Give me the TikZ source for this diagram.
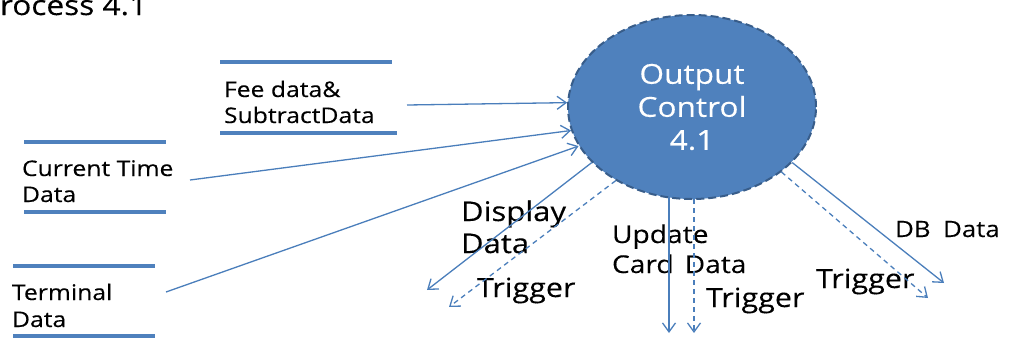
\documentclass[tikz,border=0pt]{standalone}
\usepackage{fontspec}
\setmainfont{Open Sans}[FakeStretch=1.15,FakeBold=0.25]
\usetikzlibrary{arrows.meta,shapes.geometric}
\definecolor{procfill}{HTML}{4F81BD}
\definecolor{procline}{HTML}{385D8A}
\definecolor{flow}{HTML}{4A7EBB}
\definecolor{store}{HTML}{4F81BD}
\newcommand\mylines[1]{\begin{tabular}[t]{@{}l@{}}#1\end{tabular}}
\newcommand\fs[2]{\fontsize{#1}{#2}\selectfont}
\begin{document}
\begin{tikzpicture}[x=1pt,y=-1pt,
  flowline/.style={draw=flow, line width=1.3pt, -{Straight Barb[length=9pt,width=13pt,line width=1.3pt]}},
  trig/.style={flowline, dash pattern=on 5pt off 4pt},
  storeline/.style={draw=store, line width=4.5pt},
  lbl/.style={anchor=base west, inner sep=0pt, outer sep=0pt, text=black},
  proc/.style={ellipse, fill=procfill, draw=procline, line width=2pt, dash pattern=on 8pt off 4pt,
    minimum width=248pt, minimum height=184pt, inner sep=0pt, text=white, align=center}
]
\useasboundingbox (0,0) rectangle (1014,340);

% process
\node[proc, font={\fs{27.5}{33}}] (oc) at (692,107) {Output\\Control\\4.1};

% title
\node[lbl, font={\fs{27.5}{33}}] (title) at (0,15) {rocess 4.1};

% data stores
\draw[storeline] (220,62) -- (392,62);
\draw[storeline] (220,133) -- (397,133);
\node[lbl, font={\fs{21.5}{26}}] (fee) at (224,97) {\mylines{Fee data\&\\SubtractData}};

\draw[storeline] (24,142) -- (166,142);
\draw[storeline] (24,212) -- (166,212);
\node[lbl, font={\fs{21.5}{26}}] (curr) at (22,176) {\mylines{Current Time\\Data}};

\draw[storeline] (13,266) -- (155,266);
\draw[storeline] (13,336) -- (155,336);
\node[lbl, font={\fs{21.5}{27}}] (term) at (12,300) {\mylines{Terminal\\Data}};

% flow labels
\node[lbl, font={\fs{27}{32}}] (disp) at (461,221) {\mylines{Display\\Data}};
\node[lbl, font={\fs{26.5}{32}}] (trigA) at (477,297) {Trigger};
\node[lbl, font={\fs{24.5}{30}}] (upd) at (612,243) {\mylines{Update\\Card\hspace{0.45em}Data}};
\node[lbl, font={\fs{26.5}{32}}] (trigB) at (706,307) {Trigger};
\node[lbl, font={\fs{26.5}{32}}] (trigC) at (816,288) {Trigger};
\node[lbl, font={\fs{22.5}{28}}] (db) at (895,237) {DB\hspace{0.55em}Data};

% inputs
\coordinate (feeout) at (407,105);
\coordinate (curout) at (190,180);
\coordinate (termout) at (166,292);
\draw[flowline] (feeout) -- (oc.178.6);
\draw[flowline] (curout) -- (oc.191.6);
\draw[flowline] (termout) -- (oc.199.9);

% outputs
\coordinate (dispend) at (427,290);
\coordinate (disptrig) at (449,307);
\coordinate (updend) at (669,333);
\coordinate (updtrig) at (694,333);
\coordinate (dbend) at (944,283);
\coordinate (dbtrig) at (928,298);
\draw[flowline] (oc.209.5) -- (dispend);
\draw[trig] (oc.224) -- (disptrig);
\draw[flowline, shorten <=-3pt] (oc.south -| updend) -- (updend);
\draw[trig, shorten <=-1pt] (oc.south -| updtrig) -- (updtrig);
\draw[flowline] (oc.331) -- (dbend);
\draw[trig] (oc.324) -- (dbtrig);
\end{tikzpicture}
\end{document}
